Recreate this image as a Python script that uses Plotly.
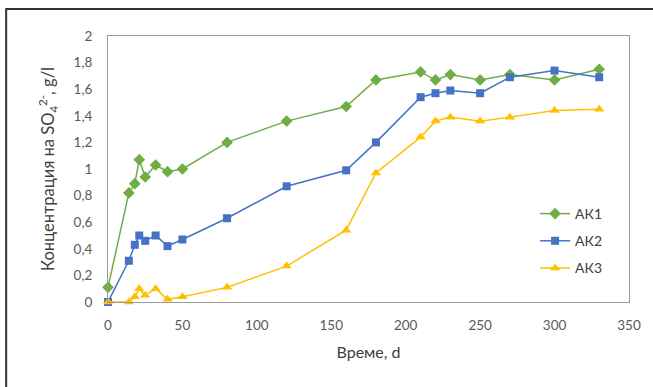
import plotly.graph_objects as go

days = [0, 14, 18, 21, 25, 32, 40, 50, 80, 120, 160, 180, 210, 220, 230, 250, 270, 300, 330]
ak1 = [0.11, 0.82, 0.89, 1.07, 0.94, 1.03, 0.98, 1.00, 1.20, 1.36, 1.47, 1.67, 1.73, 1.67, 1.71, 1.67, 1.71, 1.67, 1.75]
ak2 = [0.00, 0.31, 0.43, 0.50, 0.46, 0.50, 0.42, 0.47, 0.63, 0.87, 0.99, 1.20, 1.54, 1.57, 1.59, 1.57, 1.69, 1.74, 1.69]
ak3 = [0.00, 0.00, 0.04, 0.10, 0.05, 0.10, 0.02, 0.04, 0.11, 0.27, 0.54, 0.97, 1.24, 1.36, 1.39, 1.36, 1.39, 1.44, 1.45]

series_names = ["АК1", "АК2", "АК3"]
y_ticks = [0, 0.2, 0.4, 0.6, 0.8, 1.0, 1.2, 1.4, 1.6, 1.8, 2.0]
y_ticktext = ["0", "0,2", "0,4", "0,6", "0,8", "1", "1,2", "1,4", "1,6", "1,8", "2"]
x_ticks = [0, 50, 100, 150, 200, 250, 300, 350]

FONT = "Lato, 'Open Sans', sans-serif"

fig = go.Figure()
styles = [
    dict(color="#70AD47", symbol="diamond", size=9),
    dict(color="#4472C4", symbol="square", size=8),
    dict(color="#FFC000", symbol="triangle-up", size=9),
]
for name, vals, st in zip(series_names, [ak1, ak2, ak3], styles):
    fig.add_trace(go.Scatter(
        x=days, y=vals, name=name, mode="lines+markers",
        legendgroup=name, cliponaxis=False,
        line=dict(color=st["color"], width=1.5),
        marker=dict(color=st["color"], symbol=st["symbol"], size=st["size"]),
    ))

L, R, T, B = 108, 18, 36, 85
W, H = 653, 387
pw, ph = W - L - R, H - T - B

def px2paper_x(px):
    return (px - L) / pw

def px2paper_y(py):
    return (H - B - py) / ph

fig.update_layout(
    width=W, height=H,
    margin=dict(l=L, r=R, t=T, b=B),
    paper_bgcolor="white", plot_bgcolor="white",
    font=dict(family=FONT, color="#595959", size=13),
    showlegend=True,
    legend=dict(
        x=px2paper_x(540), y=px2paper_y(198), xanchor="left", yanchor="top",
        bgcolor="rgba(0,0,0,0)", tracegroupgap=6,
        font=dict(size=14, color="#404040"),
    ),
    xaxis=dict(
        range=[0, 350], tickvals=x_ticks, showgrid=False, zeroline=False,
        showline=True, linecolor="#9a9a9a", linewidth=1, mirror=True,
        ticks="", ticklabelstandoff=11,
        tickfont=dict(size=13.5),
        title=dict(text="Време, d", font=dict(size=16, color="#404040"), standoff=14),
    ),
    yaxis=dict(
        range=[0, 2], tickvals=y_ticks, ticktext=y_ticktext, showgrid=False, zeroline=False,
        showline=True, linecolor="#9a9a9a", linewidth=1, mirror=True,
        ticks="", ticklabelstandoff=12,
        tickfont=dict(size=13.5),
        title=dict(text="Концентрация на SO<sub>4</sub><sup>2-</sup>, g/l",
                   font=dict(size=16.5, color="#404040"), standoff=14),
    ),
    shapes=[dict(
        type="rect", xref="paper", yref="paper",
        x0=px2paper_x(5), x1=px2paper_x(700), y0=px2paper_y(420), y1=px2paper_y(9),
        line=dict(color="#333333", width=2), fillcolor="rgba(0,0,0,0)", layer="below",
    )],
)

fig.write_html("out.html")
